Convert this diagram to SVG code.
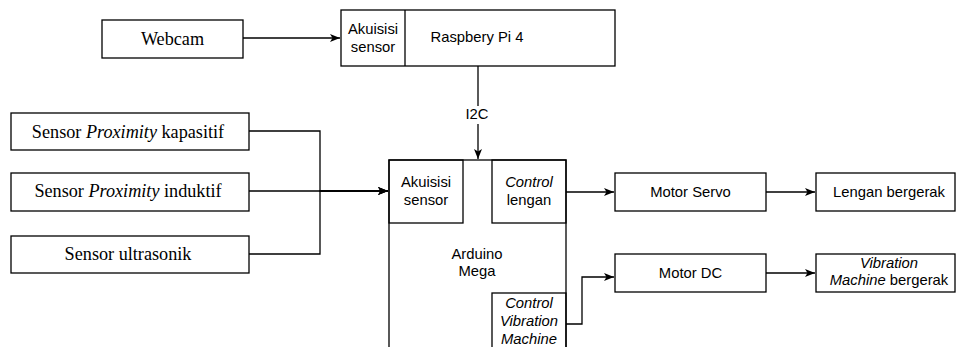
<svg xmlns="http://www.w3.org/2000/svg" width="958" height="347" viewBox="0 0 958 347">
<style>
.box{fill:#fff;stroke:#000;stroke-width:1.3}
.sub{fill:none;stroke:#000;stroke-width:1.3}
.serif{font-family:"Liberation Serif","Times New Roman",serif;font-size:18.2px;fill:#000;text-anchor:middle}
.sans{font-family:"Liberation Sans",Arial,sans-serif;font-size:14.8px;fill:#000;text-anchor:middle}
.it{font-style:italic}
.edge{fill:none;stroke:#000;stroke-width:1.3}
</style>
<defs>
<marker id="arr" markerUnits="userSpaceOnUse" markerWidth="10" markerHeight="8" refX="10" refY="4" orient="auto">
<path d="M0,0 L10,4 L0,8 L2.5,4 z" fill="#000"/>
</marker>
</defs>
<rect width="958" height="347" fill="#fff"/>

<g id="connectors">
<path class="edge" d="M243,38 H340" marker-end="url(#arr)"/>
<path class="edge" d="M478,66 V159" marker-end="url(#arr)"/>
<rect x="466" y="106" width="24" height="18" fill="#fff"/>
<text class="sans" x="477" y="119">I2C</text>
<path class="edge" d="M249,131 H320 V191 H388" marker-end="url(#arr)"/>
<path class="edge" d="M249,191 H388" marker-end="url(#arr)"/>
<path class="edge" d="M249,254 H320 V191 H388" marker-end="url(#arr)"/>
<path class="edge" d="M566,192 H614" marker-end="url(#arr)"/>
<path class="edge" d="M766,192 H815" marker-end="url(#arr)"/>
<path class="edge" d="M566,324 H582 V277 H614" marker-end="url(#arr)"/>
<path class="edge" d="M766,273 H815" marker-end="url(#arr)"/>
</g>

<g id="webcam">
<rect class="box" x="102" y="20" width="141" height="38"/>
<text class="serif" x="172.5" y="45">Webcam</text>
</g>

<g id="raspberry">
<rect class="box" x="341" y="10" width="274" height="56"/>
<line class="sub" x1="405" y1="10" x2="405" y2="66"/>
<text class="sans" x="373" y="34">Akuisisi</text>
<text class="sans" x="373" y="52">sensor</text>
<text class="sans" x="477" y="42">Raspbery Pi 4</text>
</g>

<g id="sensor-kapasitif">
<rect class="box" x="11" y="113" width="238" height="37"/>
<text class="serif" x="128" y="137.5">Sensor <tspan class="it">Proximity</tspan> kapasitif</text>
</g>

<g id="sensor-induktif">
<rect class="box" x="11" y="173" width="238" height="38"/>
<text class="serif" x="128" y="197">Sensor <tspan class="it">Proximity</tspan> induktif</text>
</g>

<g id="sensor-ultrasonik">
<rect class="box" x="11" y="236" width="238" height="37"/>
<text class="serif" x="128" y="259.5">Sensor ultrasonik</text>
</g>

<g id="arduino">
<rect class="box" x="389" y="160" width="177" height="200"/>
<rect class="sub" x="389" y="160" width="74" height="63"/>
<text class="sans" x="426" y="187">Akuisisi</text>
<text class="sans" x="426" y="205">sensor</text>
<rect class="sub" x="492" y="160" width="74" height="63"/>
<text class="sans it" x="529" y="187">Control</text>
<text class="sans" x="529" y="205">lengan</text>
<text class="sans" x="477" y="259">Arduino</text>
<text class="sans" x="477" y="276">Mega</text>
<rect class="sub" x="492" y="293" width="74" height="70"/>
<text class="sans it" x="529" y="308">Control</text>
<text class="sans it" x="529" y="326">Vibration</text>
<text class="sans it" x="529" y="344">Machine</text>
</g>

<g id="motor-servo">
<rect class="box" x="615" y="173" width="151" height="38"/>
<text class="sans" x="690.5" y="197">Motor Servo</text>
</g>

<g id="lengan-bergerak">
<rect class="box" x="816" y="173" width="139" height="38"/>
<text class="sans" x="889" y="197">Lengan bergerak</text>
</g>

<g id="motor-dc">
<rect class="box" x="615" y="254" width="151" height="38"/>
<text class="sans" x="690.5" y="278">Motor DC</text>
</g>

<g id="vibration-bergerak">
<rect class="box" x="816" y="254" width="139" height="38"/>
<text class="sans it" x="889" y="268">Vibration</text>
<text class="sans" x="889" y="285"><tspan class="it">Machine</tspan> bergerak</text>
</g>
</svg>
